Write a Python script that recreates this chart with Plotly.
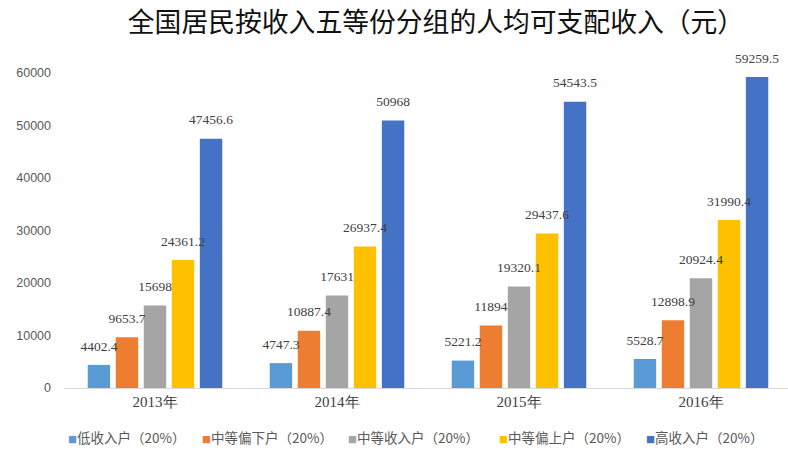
import plotly.graph_objects as go

years = ["2013年", "2014年", "2015年", "2016年"]
series_names = ["低收入户（20%）", "中等偏下户（20%）", "中等收入户（20%）", "中等偏上户（20%）", "高收入户（20%）"]
low = [4402.4, 4747.3, 5221.2, 5528.7]
lower_mid = [9653.7, 10887.4, 11894, 12898.9]
mid = [15698, 17631, 19320.1, 20924.4]
upper_mid = [24361.2, 26937.4, 29437.6, 31990.4]
high = [47456.6, 50968, 54543.5, 59259.5]
labels = [
    ["4402.4", "4747.3", "5221.2", "5528.7"],
    ["9653.7", "10887.4", "11894", "12898.9"],
    ["15698", "17631", "19320.1", "20924.4"],
    ["24361.2", "26937.4", "29437.6", "31990.4"],
    ["47456.6", "50968", "54543.5", "59259.5"],
]
colors = ["#5B9BD5", "#ED7D31", "#A5A5A5", "#FFC000", "#4472C4"]
yticks = [0, 10000, 20000, 30000, 40000, 50000, 60000]

PLOT_L, PLOT_R, PLOT_T, PLOT_B = 64, 792, 73, 388
FIG_W, FIG_H = 800, 452
legend_px = [66, 200, 346, 497, 644]
legend_py = 437

all_vals = [low, lower_mid, mid, upper_mid, high]

fig = go.Figure()
for i, (name, vals, col) in enumerate(zip(series_names, all_vals, colors)):
    fig.add_trace(go.Bar(
        x=years, y=vals, name=name, marker=dict(color=col, line=dict(width=0)),
        offsetgroup=str(i), showlegend=False, hoverinfo="x+y",
    ))
# data labels drawn on top of all bars
for i, (vals, lab) in enumerate(zip(all_vals, labels)):
    fig.add_trace(go.Scatter(
        x=years, y=vals, mode="markers+text", text=lab, textposition="top center",
        marker=dict(size=16, opacity=0),
        offsetgroup=str(i), cliponaxis=False, showlegend=False,
        textfont=dict(family="Liberation Serif", size=13.5, color="#404040"),
        hoverinfo="skip",
    ))

pw = PLOT_R - PLOT_L
ph = PLOT_B - PLOT_T
# legend drawn as text annotations
for name, col, px in zip(series_names, colors, legend_px):
    fig.add_annotation(
        text=f"<span style='color:{col};font-size:9px'>■</span>{name}",
        x=(px - PLOT_L) / pw, xref="paper", xanchor="left",
        y=(PLOT_B - legend_py) / ph, yref="paper", yanchor="middle",
        showarrow=False,
        font=dict(family="Noto Sans CJK SC", size=13.5, color="#595959"),
    )

fig.update_layout(
    width=FIG_W, height=FIG_H,
    paper_bgcolor="white", plot_bgcolor="white",
    margin=dict(l=PLOT_L, r=FIG_W - PLOT_R, t=PLOT_T, b=FIG_H - PLOT_B, autoexpand=False),
    barmode="group", bargap=0.23, bargroupgap=0.2,
    scattermode="group", scattergap=0.23,
    title=dict(text="全国居民按收入五等份分组的人均可支配收入（元）",
               font=dict(family="Noto Sans CJK SC", size=26.8, color="#111111"),
               x=436 / FIG_W, xanchor="center", xref="container",
               y=1 - 23 / FIG_H, yanchor="middle", yref="container"),
    showlegend=False,
)
fig.update_xaxes(showline=True, linecolor="#D9D9D9", linewidth=1, ticks="",
                 tickfont=dict(family="Liberation Serif", size=15, color="#404040"),
                 showgrid=False, automargin=False)
fig.update_yaxes(range=[0, 60000], tickvals=yticks, ticktext=[str(v) for v in yticks],
                 showgrid=False, zeroline=False, showline=False, ticks="",
                 tickfont=dict(family="Liberation Sans", size=12.5, color="#595959"),
                 ticklabelstandoff=12, automargin=False)

fig.write_html(
    "out.html",
    config={"displayModeBar": False},
    post_script="document.body.style.margin='0';document.body.style.overflow='hidden';"
                "document.documentElement.style.overflow='hidden';",
)
